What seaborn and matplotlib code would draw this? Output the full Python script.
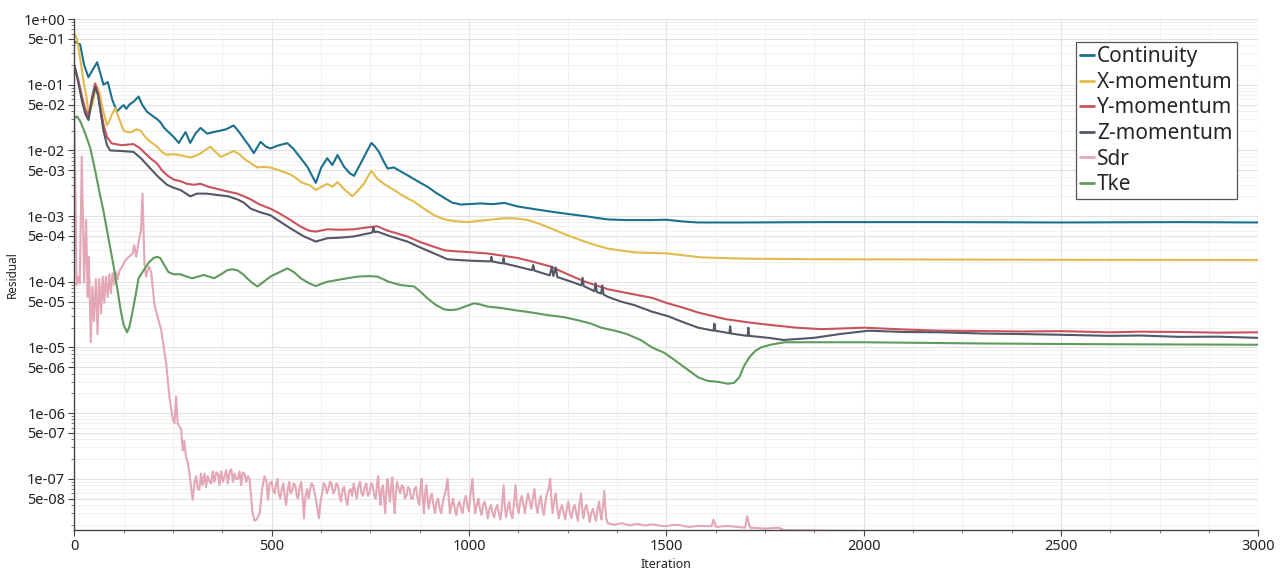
import numpy as np
import pandas as pd
import matplotlib
matplotlib.use("Agg")
import matplotlib.pyplot as plt
import matplotlib.ticker as mticker
import seaborn as sb

# residual history, (iteration, residual)
continuity = [(3, 0.45), (15, 0.41), (25, 0.2), (36, 0.13), (47, 0.17), (58, 0.22), (66, 0.15), (74, 0.10),
              (85, 0.11), (96, 0.06), (108, 0.039), (118, 0.045), (125, 0.049), (132, 0.043), (140, 0.05),
              (150, 0.055), (163, 0.066), (172, 0.05), (184, 0.039), (200, 0.033), (210, 0.03),
              (218, 0.027), (228, 0.022), (239, 0.019), (252, 0.016), (265, 0.013), (274, 0.016),
              (282, 0.019), (294, 0.013), (307, 0.018), (320, 0.022), (337, 0.018), (352, 0.019),
              (370, 0.02), (385, 0.021), (404, 0.024), (418, 0.019), (430, 0.015), (442, 0.012),
              (455, 0.0091), (472, 0.0135), (485, 0.0115), (497, 0.0107), (515, 0.0118), (530, 0.0125),
              (540, 0.0129), (556, 0.0105), (574, 0.0076), (591, 0.0056), (612, 0.0032), (626, 0.0055),
              (641, 0.0076), (654, 0.006), (667, 0.0085), (684, 0.0056), (698, 0.0045), (709, 0.0041),
              (730, 0.0071), (742, 0.0098), (753, 0.013), (762, 0.0115), (772, 0.0095), (784, 0.0068),
              (794, 0.0053), (810, 0.0055), (827, 0.0048), (844, 0.0042), (870, 0.0034), (895, 0.0028),
              (915, 0.0023), (937, 0.0019), (958, 0.0016), (980, 0.0015), (1030, 0.00156),
              (1060, 0.00152), (1090, 0.00159), (1124, 0.0014), (1165, 0.00128), (1208, 0.00117),
              (1250, 0.00108), (1293, 0.0010), (1352, 0.00089), (1400, 0.00087), (1462, 0.00087),
              (1500, 0.00088), (1540, 0.00083), (1580, 0.00080), (1700, 0.00080), (1900, 0.00081),
              (2200, 0.00081), (2500, 0.00080), (2800, 0.00081), (3000, 0.00080)]

x_momentum = [(0, 0.6), (7, 0.5), (15, 0.25), (24, 0.11), (32, 0.059), (36, 0.034), (46, 0.05),
              (52, 0.075), (58, 0.093), (64, 0.075), (70, 0.05), (77, 0.033), (83, 0.024), (90, 0.029),
              (95, 0.035), (104, 0.044), (114, 0.03), (125, 0.02), (135, 0.019), (145, 0.019),
              (158, 0.021), (168, 0.02), (180, 0.016), (190, 0.014), (210, 0.0114), (222, 0.0095),
              (235, 0.0085), (250, 0.0088), (265, 0.0085), (280, 0.0082), (294, 0.0078), (308, 0.0083),
              (320, 0.009), (332, 0.0102), (345, 0.0114), (358, 0.0095), (371, 0.008), (388, 0.0088),
              (404, 0.0098), (418, 0.0088), (430, 0.0075), (447, 0.0064), (464, 0.0055), (480, 0.0056),
              (497, 0.0055), (522, 0.0049), (548, 0.0043), (562, 0.0038), (574, 0.0033), (599, 0.0029),
              (612, 0.0025), (627, 0.0028), (641, 0.0031), (654, 0.0028), (667, 0.0033), (686, 0.0025),
              (705, 0.002), (720, 0.0025), (734, 0.0031), (745, 0.0041), (753, 0.0049), (768, 0.0037),
              (788, 0.003), (810, 0.0025), (835, 0.002), (861, 0.00166), (886, 0.0013), (912, 0.00103),
              (930, 0.00093), (946, 0.00087), (970, 0.00083), (997, 0.00081), (1020, 0.00084),
              (1047, 0.00087), (1090, 0.00093), (1120, 0.00092), (1149, 0.00087), (1180, 0.00076),
              (1208, 0.00065), (1250, 0.00051), (1293, 0.00041), (1322, 0.00036), (1352, 0.00032),
              (1420, 0.00028), (1504, 0.00027), (1589, 0.000235), (1700, 0.000225), (1900, 0.00022),
              (2200, 0.000218), (2500, 0.000216), (2800, 0.000215), (3000, 0.000214)]

y_momentum = [(0, 0.2), (10, 0.12), (20, 0.065), (28, 0.042), (36, 0.033), (44, 0.06), (53, 0.105),
              (60, 0.075), (65, 0.05), (74, 0.025), (83, 0.016), (95, 0.0128), (120, 0.012), (150, 0.0125),
              (165, 0.011), (176, 0.0095), (193, 0.0076), (210, 0.0063), (222, 0.005), (235, 0.0042),
              (252, 0.0036), (269, 0.0034), (286, 0.0031), (303, 0.003), (320, 0.0031), (340, 0.0028),
              (362, 0.0026), (385, 0.0024), (413, 0.0022), (430, 0.002), (447, 0.0018), (470, 0.0015),
              (497, 0.0013), (520, 0.0011), (548, 0.00087), (574, 0.00069), (595, 0.0006), (612, 0.00058),
              (641, 0.00063), (675, 0.00062), (709, 0.00063), (740, 0.00067), (768, 0.0007), (794, 0.0006),
              (820, 0.00054), (844, 0.00049), (878, 0.0004), (912, 0.00034), (940, 0.0003), (971, 0.00029),
              (1010, 0.00028), (1047, 0.00027), (1085, 0.00025), (1124, 0.00023), (1165, 0.0002),
              (1208, 0.00017), (1250, 0.00013), (1293, 0.000101), (1352, 0.000077), (1420, 0.000064),
              (1464, 0.000057), (1504, 0.000047), (1545, 0.00004), (1581, 0.000034), (1650, 0.000027),
              (1710, 0.000024), (1764, 0.000022), (1830, 0.00002), (1893, 0.000019), (1950, 0.0000195),
              (2003, 0.00002), (2100, 0.0000188), (2196, 0.000018), (2300, 0.0000178), (2400, 0.0000175),
              (2500, 0.0000177), (2625, 0.000017), (2700, 0.0000174), (2800, 0.0000172), (2900, 0.0000168),
              (3000, 0.000017)]

z_momentum = [(0, 0.2), (10, 0.11), (20, 0.055), (28, 0.036), (36, 0.029), (44, 0.055), (53, 0.093),
              (60, 0.07), (65, 0.045), (74, 0.02), (83, 0.012), (91, 0.010), (120, 0.0098), (150, 0.0095),
              (170, 0.0075), (193, 0.0053), (212, 0.004), (235, 0.003), (252, 0.0027), (269, 0.0025),
              (294, 0.002), (311, 0.0022), (335, 0.0022), (362, 0.0021), (390, 0.002), (413, 0.0018),
              (430, 0.0016), (447, 0.0013), (470, 0.00115), (497, 0.00103), (522, 0.00082), (548, 0.00065),
              (582, 0.00049), (612, 0.00041), (641, 0.00046), (675, 0.00047), (709, 0.00049),
              (735, 0.00053), (755, 0.00056), (758, 0.00068), (761, 0.00057), (768, 0.00058),
              (802, 0.00049), (844, 0.00041), (878, 0.00033), (912, 0.00027), (946, 0.00022),
              (1000, 0.00021), (1047, 0.000205), (1055, 0.000205), (1057, 0.00024), (1059, 0.000204),
              (1086, 0.00019), (1088, 0.00023), (1090, 0.00019), (1124, 0.00017), (1160, 0.00015),
              (1163, 0.00018), (1166, 0.000148), (1205, 0.000125), (1210, 0.00017), (1214, 0.000122),
              (1220, 0.000165), (1224, 0.000118), (1260, 0.0001), (1285, 0.000088), (1288, 0.000115),
              (1291, 0.000086), (1318, 0.000072), (1321, 0.000095), (1324, 0.00007), (1335, 0.000066),
              (1338, 0.000088), (1341, 0.000064), (1352, 0.000059), (1385, 0.00005), (1420, 0.000044),
              (1464, 0.000035), (1504, 0.00003), (1545, 0.000024), (1581, 0.00002), (1620, 0.000018),
              (1622, 0.000023), (1624, 0.000018), (1660, 0.0000165), (1662, 0.000021), (1664, 0.0000163),
              (1706, 0.000015), (1708, 0.00002), (1710, 0.000015), (1760, 0.000014), (1797, 0.000013),
              (1874, 0.000014), (1940, 0.000016), (2013, 0.000018), (2100, 0.0000172), (2196, 0.000017),
              (2300, 0.0000163), (2400, 0.000016), (2500, 0.0000156), (2625, 0.000015), (2700, 0.0000152),
              (2800, 0.0000145), (2900, 0.0000146), (3000, 0.000014)]

sdr = [(0, 3e-2), (3, 2e-3), (6, 9e-5), (10, 1.2e-4), (14, 9.5e-5), (19, 8e-3), (22, 1e-3), (25, 9.7e-5),
       (30, 8.8e-4), (34, 5.9e-5), (37, 2.4e-4), (42, 1.2e-5), (46, 8.4e-5), (50, 2.5e-5), (55, 1.1e-4),
       (59, 1.6e-5), (63, 1.1e-4), (68, 3.3e-5), (72, 1.2e-4), (76, 4.8e-5), (80, 1.2e-4), (85, 5.9e-5),
       (89, 1.3e-4), (93, 6.7e-5), (97, 1.35e-4), (102, 9e-5), (106, 1.4e-4), (110, 1.1e-4), (115, 1.5e-4),
       (119, 1.6e-4), (127, 2e-4), (135, 2.3e-4), (142, 2.5e-4), (148, 2.7e-4), (152, 3.6e-4),
       (157, 2.4e-4), (163, 4e-4), (169, 6.1e-4), (173, 2.2e-3), (178, 1.9e-4), (182, 1.2e-4),
       (186, 1.5e-4), (190, 1.7e-4), (195, 1.4e-4), (203, 4.6e-5), (212, 2.8e-5), (220, 1.9e-5),
       (233, 5.7e-6), (241, 1.8e-6), (250, 7.9e-7), (254, 7e-7), (258, 1.8e-6), (262, 7e-7),
       (271, 5.6e-7), (275, 2.7e-7), (279, 3.8e-7), (283, 2.2e-7), (288, 1.7e-7), (292, 1.2e-7),
       (300, 4.8e-8), (305, 9e-8), (309, 1.1e-7), (313, 7e-8), (317, 6.8e-8), (321, 1.2e-7),
       (325, 8e-8), (330, 1.2e-7), (334, 7.5e-8), (338, 1.1e-7), (343, 9e-8), (347, 8.5e-8),
       (351, 1.3e-7), (355, 9e-8), (360, 1.25e-7), (364, 1.2e-7), (368, 8e-8), (372, 1.3e-7),
       (377, 9e-8), (381, 1.1e-7), (385, 1.35e-7), (389, 8.5e-8), (394, 1.3e-7), (398, 1.4e-7),
       (402, 9e-8), (406, 1.2e-7), (410, 1e-7), (414, 9.9e-8), (419, 1.3e-7), (423, 8e-8),
       (427, 1.25e-7), (431, 1.2e-7), (436, 9e-8), (440, 1.1e-7), (444, 1.0e-7), (448, 5.4e-8),
       (452, 3e-8), (457, 2.3e-8), (462, 2.4e-8), (470, 3e-8), (476, 7e-8), (482, 1.1e-7),
       (487, 9e-8), (491, 4.8e-8), (495, 8.5e-8), (500, 9e-8), (504, 6.5e-8), (508, 6e-8), (511, 8e-8),
       (515, 1e-7), (518, 6e-8), (522, 5e-8), (526, 7e-8), (530, 8.5e-8), (533, 5.5e-8), (537, 4e-8),
       (541, 7e-8), (545, 9e-8), (548, 6e-8), (552, 6.5e-8), (556, 8.5e-8), (560, 8e-8), (564, 5.5e-8),
       (567, 5e-8), (571, 7.5e-8), (575, 9e-8), (579, 5e-8), (582, 2.5e-8), (586, 5.5e-8), (590, 7e-8),
       (594, 5e-8), (597, 6.5e-8), (601, 8.5e-8), (605, 8e-8), (609, 6e-8), (612, 5e-8), (616, 3.5e-8),
       (620, 2.5e-8), (624, 4.5e-8), (628, 6e-8), (632, 8.5e-8), (636, 8e-8), (640, 6e-8), (644, 7e-8),
       (648, 9e-8), (652, 8.5e-8), (656, 6e-8), (660, 6.5e-8), (664, 8.5e-8), (668, 8e-8), (672, 5.5e-8),
       (676, 4.5e-8), (680, 7e-8), (684, 7.5e-8), (688, 5e-8), (692, 4e-8), (696, 6.5e-8), (700, 7e-8),
       (704, 5.5e-8), (708, 8.5e-8), (712, 6.5e-8), (716, 5e-8), (720, 7.5e-8), (724, 9e-8),
       (728, 6e-8), (732, 5.5e-8), (736, 7.5e-8), (740, 8.5e-8), (744, 5.5e-8), (748, 6e-8),
       (752, 8.5e-8), (756, 8e-8), (760, 5.5e-8), (764, 5e-8), (767, 8e-8), (770, 1.1e-7), (773, 6e-8),
       (776, 4e-8), (779, 7e-8), (782, 8e-8), (785, 5e-8), (788, 3e-8), (791, 7e-8), (794, 1e-7),
       (797, 6e-8), (800, 4.5e-8), (803, 8e-8), (806, 1.05e-7), (809, 5e-8), (812, 3e-8), (815, 6.5e-8),
       (818, 9e-8), (822, 7e-8), (826, 6e-8), (830, 8e-8), (834, 7.5e-8), (838, 5e-8), (842, 5.5e-8),
       (846, 7.5e-8), (850, 7e-8), (854, 5e-8), (858, 5e-8), (862, 7e-8), (866, 7.5e-8), (870, 5e-8),
       (874, 4e-8), (877, 7e-8), (880, 1e-7), (883, 5e-8), (886, 3e-8), (889, 6e-8), (892, 8e-8),
       (895, 5e-8), (898, 3.5e-8), (902, 5e-8), (906, 6e-8), (910, 4e-8), (914, 3e-8), (918, 4.5e-8),
       (922, 5e-8), (926, 3.5e-8), (930, 3e-8), (934, 4.5e-8), (938, 5.5e-8), (942, 7e-8), (946, 1e-7),
       (949, 5e-8), (952, 3e-8), (956, 4e-8), (960, 5e-8), (964, 3.5e-8), (968, 2.8e-8), (972, 4e-8),
       (976, 4.5e-8), (980, 3.5e-8), (984, 3e-8), (988, 4.5e-8), (992, 5.5e-8), (996, 4e-8),
       (1000, 3.2e-8), (1004, 6e-8), (1009, 1e-7), (1012, 5e-8), (1016, 3e-8), (1020, 4e-8),
       (1024, 5e-8), (1028, 3.5e-8), (1032, 2.8e-8), (1036, 4e-8), (1040, 4.5e-8), (1044, 3.5e-8),
       (1048, 2.5e-8), (1052, 3.5e-8), (1056, 4e-8), (1060, 3e-8), (1064, 2.6e-8), (1068, 3.5e-8),
       (1072, 4e-8), (1076, 3e-8), (1080, 2.4e-8), (1084, 4e-8), (1088, 8e-8), (1091, 4e-8),
       (1094, 2.6e-8), (1098, 3.5e-8), (1102, 4.5e-8), (1106, 3e-8), (1110, 2.5e-8), (1114, 4e-8),
       (1118, 8e-8), (1122, 4e-8), (1126, 3e-8), (1130, 4.5e-8), (1134, 5.5e-8), (1138, 4e-8),
       (1142, 3e-8), (1146, 4.5e-8), (1150, 6e-8), (1154, 4.5e-8), (1158, 3.5e-8), (1162, 5e-8),
       (1166, 7e-8), (1170, 4e-8), (1174, 3e-8), (1178, 4.5e-8), (1182, 5.5e-8), (1186, 3.5e-8),
       (1190, 2.8e-8), (1194, 4.5e-8), (1198, 6e-8), (1202, 7e-8), (1206, 1e-7), (1209, 5e-8),
       (1212, 3e-8), (1216, 4.5e-8), (1220, 6e-8), (1224, 3.5e-8), (1228, 2.5e-8), (1232, 3.5e-8),
       (1236, 4e-8), (1240, 3e-8), (1244, 2.4e-8), (1248, 3.5e-8), (1252, 4.5e-8), (1256, 3e-8),
       (1260, 2.5e-8), (1264, 3.5e-8), (1268, 4e-8), (1272, 3e-8), (1276, 2.3e-8), (1280, 4e-8),
       (1284, 6e-8), (1287, 3.5e-8), (1290, 2.5e-8), (1294, 3.5e-8), (1298, 4e-8), (1302, 3e-8),
       (1306, 2.2e-8), (1310, 3e-8), (1314, 3.5e-8), (1318, 2.8e-8), (1322, 2.3e-8), (1326, 3.5e-8),
       (1330, 4.5e-8), (1333, 3e-8), (1336, 2.4e-8), (1340, 4e-8), (1343, 6.5e-8), (1346, 3.5e-8),
       (1348, 2.5e-8), (1352, 2.1e-8), (1360, 2.05e-8), (1370, 2.0e-8), (1380, 2.08e-8), (1390, 2.1e-8),
       (1400, 2.0e-8), (1410, 1.95e-8), (1420, 2.03e-8), (1430, 2.05e-8), (1440, 1.97e-8),
       (1450, 1.95e-8), (1460, 2.02e-8), (1470, 2.0e-8), (1485, 1.93e-8), (1500, 1.9e-8),
       (1515, 1.97e-8), (1530, 2.0e-8), (1545, 1.9e-8), (1560, 1.85e-8), (1580, 1.92e-8),
       (1600, 1.9e-8), (1615, 1.9e-8), (1620, 2.4e-8), (1625, 1.88e-8), (1630, 1.85e-8), (1645, 1.9e-8),
       (1660, 1.9e-8), (1680, 1.85e-8), (1700, 1.8e-8), (1705, 2.7e-8), (1712, 1.8e-8), (1730, 1.78e-8),
       (1750, 1.75e-8), (1770, 1.78e-8), (1785, 1.8e-8), (1800, 1.65e-8), (2000, 1.6e-8),
       (2500, 1.6e-8), (3000, 1.6e-8)]

tke = [(0, 0.031), (7, 0.033), (15, 0.028), (28, 0.018), (41, 0.0107), (54, 0.0046), (66, 0.002),
       (74, 0.0012), (87, 0.00045), (100, 0.00017), (109, 0.00008), (117, 0.000039), (125, 0.000022),
       (134, 0.000017), (140, 0.000021), (146, 0.000031), (155, 0.00006), (163, 0.000113),
       (176, 0.00015), (190, 0.0002), (201, 0.00023), (210, 0.00024), (218, 0.00023), (228, 0.00018),
       (239, 0.00014), (252, 0.00013), (269, 0.00013), (285, 0.00012), (299, 0.000113), (314, 0.00012),
       (328, 0.000127), (341, 0.00012), (354, 0.000113), (372, 0.00013), (388, 0.00015), (400, 0.000155),
       (413, 0.00015), (428, 0.00013), (440, 0.00011), (452, 0.000095), (464, 0.000085), (480, 0.0001),
       (497, 0.00012), (520, 0.00014), (540, 0.00016), (557, 0.00014), (574, 0.000113), (595, 0.000095),
       (612, 0.000086), (626, 0.000093), (641, 0.0001), (680, 0.00011), (718, 0.00012), (745, 0.000122),
       (768, 0.00012), (797, 0.0001), (827, 0.000089), (861, 0.000085), (878, 0.00007), (895, 0.000056),
       (915, 0.000045), (937, 0.000038), (955, 0.000037), (971, 0.000038), (990, 0.000042),
       (1013, 0.000047), (1030, 0.000045), (1047, 0.000042), (1080, 0.00004), (1115, 0.000037),
       (1160, 0.000034), (1200, 0.000031), (1240, 0.000029), (1276, 0.000026), (1310, 0.000023),
       (1335, 0.00002), (1370, 0.000018), (1400, 0.000016), (1435, 0.000013), (1464, 0.00001),
       (1495, 0.0000083), (1520, 0.0000065), (1550, 0.0000048), (1581, 0.0000035), (1605, 0.0000031),
       (1630, 0.000003), (1657, 0.0000028), (1672, 0.0000029), (1685, 0.0000035), (1697, 0.0000052),
       (1710, 0.000007), (1725, 0.0000088), (1740, 0.00001), (1764, 0.000011), (1800, 0.000012),
       (1900, 0.000012), (2000, 0.000012), (2300, 0.0000115), (2600, 0.0000112), (3000, 0.000011)]

names = ['Continuity', 'X-momentum', 'Y-momentum', 'Z-momentum', 'Sdr', 'Tke']
colors = ['#1b6f8f', '#e2bb4c', '#c9525c', '#535866', '#e3a7b6', '#5f9b5b']
series = [continuity, x_momentum, y_momentum, z_momentum, sdr, tke]

frames = []
for name, pts in zip(names, series):
    its, vals = zip(*pts)
    frames.append(pd.DataFrame({'Iteration': its, 'Residual': vals, 'Series': name}))
df = pd.concat(frames, ignore_index=True)

sb.set_style('white')
plt.rcParams['font.family'] = ['Noto Sans', 'DejaVu Sans']

fig = plt.figure(figsize=(12.8, 5.78), dpi=100)
ax = fig.add_axes([0.058, 0.083, 0.925, 0.884])

sb.lineplot(data=df, x='Iteration', y='Residual', hue='Series', hue_order=names,
            palette=dict(zip(names, colors)), estimator=None, sort=False, lw=1.5, ax=ax,
            legend=False)

ax.set_yscale('log')
ax.set_ylim(1.66e-8, 1.0)
ax.set_xlim(0, 3000)

# ticks: labels on 1eN and 5eN
major = []
for e in range(0, -8, -1):
    major.append(10.0 ** e)
    major.append(5 * 10.0 ** (e - 1))
ax.yaxis.set_major_locator(mticker.FixedLocator(major))
ax.yaxis.set_major_formatter(mticker.FuncFormatter(lambda v, p: f'{v:.0e}'))
ax.yaxis.set_minor_locator(mticker.LogLocator(base=10, subs=(2, 3, 4, 6, 7, 8, 9), numticks=20))
ax.yaxis.set_minor_formatter(mticker.NullFormatter())
ax.xaxis.set_major_locator(mticker.MultipleLocator(500))
ax.xaxis.set_minor_locator(mticker.MultipleLocator(125))

ax.grid(which='major', color='#e2e2e2', lw=0.8)
ax.grid(which='minor', color='#f1f1f1', lw=0.7)
ax.set_axisbelow(True)

for s in ['top', 'right']:
    ax.spines[s].set_visible(False)
for s in ['left', 'bottom']:
    ax.spines[s].set_color('#444444')
    ax.spines[s].set_linewidth(1.0)
ax.tick_params(which='major', direction='out', length=4, width=0.8, color='#444444',
               labelsize=10.5, labelcolor='#222222', left=True, bottom=True, pad=2.5)
ax.tick_params(which='minor', direction='out', length=2.5, width=0.6, color='#666666',
               left=True, bottom=True)

ax.set_xlabel('Iteration', fontsize=9, color='#222222', labelpad=3)
ax.set_ylabel('Residual', fontsize=8.5, color='#222222', labelpad=3)

handles = [plt.Line2D([], [], color=c, lw=2) for c in colors]
leg = ax.legend(handles, names, loc='upper right', bbox_to_anchor=(0.982, 0.955),
                borderaxespad=0, fontsize=15, handlelength=0.65, handletextpad=0.15,
                labelspacing=0.22, borderpad=0.2, fancybox=False, framealpha=1,
                edgecolor='#555555')
leg.get_frame().set_linewidth(0.9)

fig.savefig('out.png', dpi=100)
